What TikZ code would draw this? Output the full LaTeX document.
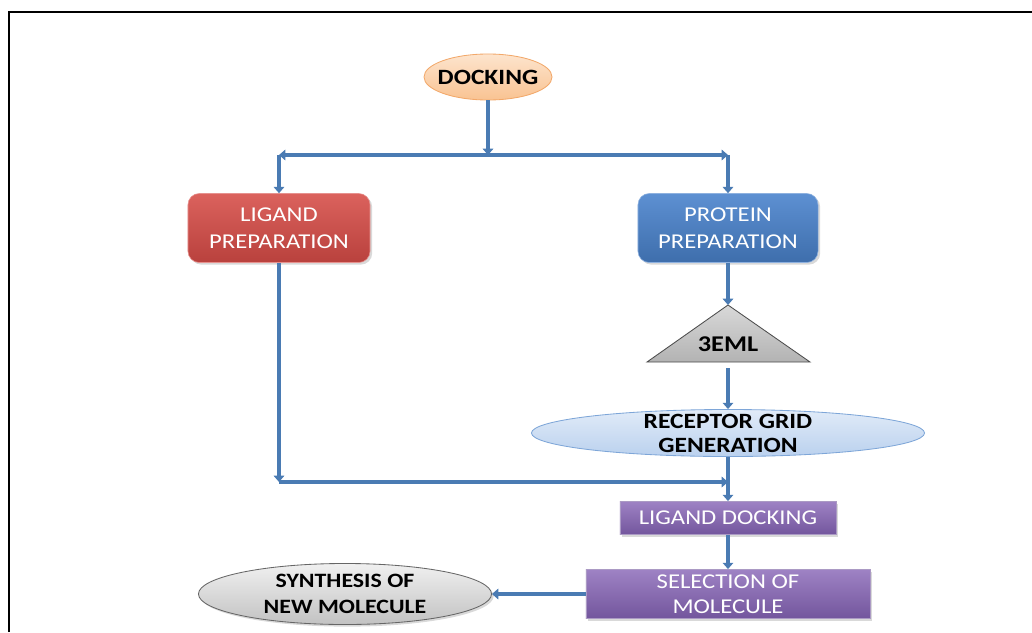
\documentclass[tikz,border=0pt]{standalone}
\usepackage{fontspec}
\setmainfont{Carlito}
\newfontfamily\widefont[FakeStretch=1.17]{Carlito}
\usetikzlibrary{arrows.meta,shapes.geometric,shadows}
\definecolor{flowblue}{HTML}{4A7BB3}
\definecolor{peachtop}{HTML}{FDE4CD}
\definecolor{peachbot}{HTML}{F9C392}
\definecolor{peachrim}{HTML}{F2A86A}
\definecolor{redtop}{HTML}{DB625D}
\definecolor{redbot}{HTML}{B9413D}
\definecolor{bluetop}{HTML}{5D90D2}
\definecolor{bluebot}{HTML}{3E6EAC}
\definecolor{purptop}{HTML}{9E82C4}
\definecolor{purpbot}{HTML}{73569D}
\definecolor{skytop}{HTML}{E1EBF8}
\definecolor{skybot}{HTML}{BAD1EE}
\definecolor{skyrim}{HTML}{7EA6D8}
\definecolor{greytop}{HTML}{F0F0F0}
\definecolor{greybot}{HTML}{C2C2C2}
\tikzset{
  flow/.style={draw=flowblue, line width=3pt, -{Triangle[width=7.5pt,length=4.5pt]}},
  shade/.style={drop shadow={opacity=0.3,shadow xshift=1.5pt,shadow yshift=-1.5pt}},
  whitetxt/.style={text=white, font=\widefont\fontsize{15}{19}\selectfont, align=center},
  boldtxt/.style={text=black, font=\widefont\bfseries\fontsize{15.5}{17}\selectfont, align=center},
  roundbox/.style={rectangle, rounded corners=8pt, shade, whitetxt, inner sep=2pt},
  flatbox/.style={rectangle, draw=purpbot!60!white, line width=0.6pt, top color=purptop, bottom color=purpbot, shade, whitetxt, inner sep=1pt},
}
\begin{document}
\begin{tikzpicture}[x=0.025cm,y=-0.025cm]
  \useasboundingbox (0,0) rectangle (1032,632);
  \draw[line width=1.5pt] (9,632) -- (9,12) -- (1032,12);

  \node[ellipse, draw=peachrim, line width=0.6pt, top color=peachtop, bottom color=peachbot,
        minimum width=3.2cm, minimum height=1.15cm, label={[boldtxt]center:DOCKING}] (dock) at (488,77) {};
  \node[roundbox, draw=redtop!70!white, top color=redtop, bottom color=redbot,
        minimum width=4.55cm, minimum height=1.725cm] (lig) at (279,228) {LIGAND\\PREPARATION};
  \node[roundbox, draw=bluetop!70!white, top color=bluetop, bottom color=bluebot,
        minimum width=4.5cm, minimum height=1.725cm] (prot) at (728,228) {PROTEIN\\PREPARATION};
  \draw[draw=black!70, line width=0.6pt, top color=black!15, bottom color=black!30]
    (647,362) -- (728,305) coordinate (apex) -- (810,362) -- cycle;
  \node[boldtxt, font=\widefont\bfseries\fontsize{16}{18}\selectfont] (pdb) at (728,344) {3EML};
  \node[ellipse, draw=skyrim, line width=0.6pt, top color=skytop, bottom color=skybot,
        minimum width=9.825cm, minimum height=1.175cm,
        label={[boldtxt]center:RECEPTOR GRID\\GENERATION}] (rec) at (728,433) {};
  \node[flatbox, minimum width=5.4cm, minimum height=0.825cm] (ligdock) at (728,518) {LIGAND DOCKING};
  \node[flatbox, font=\widefont\fontsize{15}{18}\selectfont, minimum width=7.1cm, minimum height=1.225cm] (sel) at (728,594) {SELECTION OF\\MOLECULE};
  \node[ellipse, draw=black!60, line width=0.6pt, top color=greytop, bottom color=greybot, shade,
        minimum width=7.325cm, minimum height=1.525cm,
        label={[boldtxt, font=\widefont\bfseries\fontsize{14.5}{18}\selectfont]center:SYNTHESIS OF\\NEW MOLECULE}] (synth) at (345,594) {};

  \coordinate (split) at (488,155);
  \coordinate (lturn) at (279,155);
  \coordinate (rturn) at (728,155);
  \coordinate (base) at (728,368);
  \coordinate (lbend) at (279,482);
  \coordinate (merge) at (728,482);
  \begin{scope}
    \draw[flow] (dock) to (split);
    \draw[flow] (split) to (lturn);
    \draw[flow] (split) to (rturn);
    \draw[flow] (lturn) to (lig);
    \draw[flow] (rturn) to (prot);
    \draw[flow] (prot) to (apex);
    \draw[flow] (base) to (rec);
    \draw[flow] (rec) to (ligdock);
    \draw[flow] (lig) to (lbend);
    \draw[flow] (lbend) to (merge);
    \draw[flow] (ligdock) to (sel);
    \draw[flow] (sel) to (synth);
  \end{scope}
\end{tikzpicture}
\end{document}
